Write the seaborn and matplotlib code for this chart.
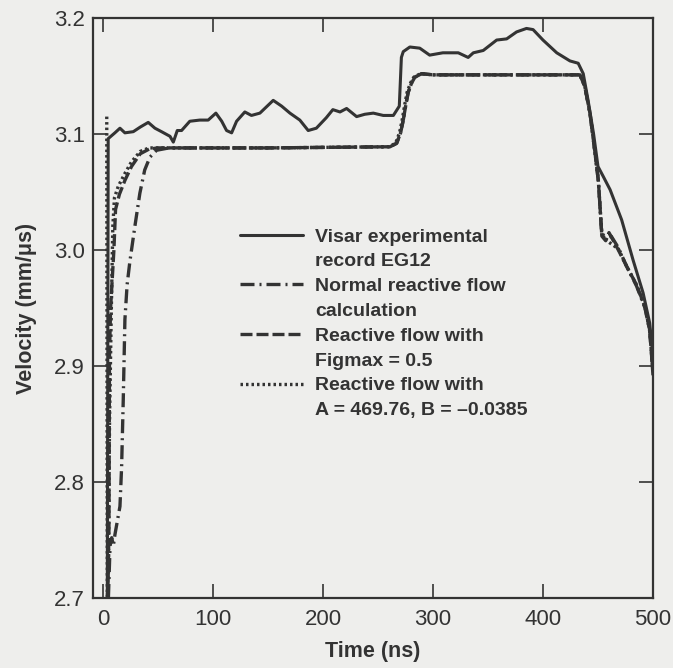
import numpy as np
import pandas as pd
import matplotlib
matplotlib.use("Agg")
import matplotlib.pyplot as plt
import seaborn as sns
from matplotlib.lines import Line2D

# ---- data ----
visar_t = [4, 4.8, 10.9, 15.5, 20, 27.6, 34, 41.2, 47.3, 53.3, 61, 64, 67.6, 71.5, 79, 88,
           95.7, 102.7, 108, 112.4, 117, 121.5, 129, 135, 142.7, 154.8, 162.5, 170, 179,
           186.6, 194, 203, 209, 215.5, 221.5, 230.6, 238, 245.8, 254.8, 264, 269.4, 271.3,
           273, 279, 288, 297, 309, 323, 332, 336.7, 345.7, 357.9, 367, 376, 385, 391, 400,
           412.5, 424.5, 432, 436.6, 441, 446, 450, 455, 461, 471.5, 482, 491, 497, 500]
visar_v = [2.70, 3.096, 3.101, 3.105, 3.101, 3.102, 3.106, 3.110, 3.105, 3.102, 3.098, 3.093,
           3.103, 3.103, 3.111, 3.112, 3.112, 3.118, 3.111, 3.103, 3.101, 3.111, 3.119, 3.116,
           3.118, 3.129, 3.124, 3.118, 3.112, 3.103, 3.105, 3.114, 3.121, 3.119, 3.122, 3.115,
           3.117, 3.118, 3.116, 3.116, 3.124, 3.166, 3.171, 3.175, 3.174, 3.168, 3.170, 3.170,
           3.166, 3.170, 3.172, 3.181, 3.182, 3.188, 3.191, 3.190, 3.181, 3.170, 3.163, 3.161,
           3.152, 3.129, 3.100, 3.072, 3.063, 3.052, 3.026, 2.991, 2.963, 2.937, 2.908]

normal_t = [5, 6.5, 8, 9.5, 11, 15.5, 17, 18.5, 20, 22, 24.5, 29, 33.6, 38, 42.7, 48.8, 60,
            150, 261, 267, 270.6, 273, 275.5, 277.5, 280.6, 283.6, 289.7, 300, 433.6, 438,
            442.7, 447, 450.3, 452, 453.5, 457, 462, 468.5, 476, 485, 492.7, 497, 500]
normal_v = [2.70, 2.745, 2.752, 2.745, 2.755, 2.779, 2.813, 2.871, 2.94, 2.97, 2.99, 3.02,
            3.049, 3.069, 3.080, 3.086, 3.088, 3.088, 3.089, 3.092, 3.101, 3.112, 3.126, 3.136,
            3.144, 3.149, 3.152, 3.151, 3.151, 3.141, 3.118, 3.086, 3.060, 3.035, 3.012, 3.010,
            3.012, 3.002, 2.986, 2.969, 2.950, 2.930, 2.895]

figmax_t = [4.5, 5.5, 6, 7, 10, 11.5, 15, 20, 26, 34, 42, 50, 150, 261, 267, 270.6, 273,
            275.5, 277.5, 280.6, 283.6, 289.7, 300, 433.6, 438, 442.7, 447, 450.3, 452, 453.5,
            457, 460, 468.5, 476, 485, 492.7, 497, 500]
figmax_v = [2.70, 2.76, 2.91, 2.95, 3.00, 3.035, 3.048, 3.060, 3.072, 3.083, 3.087, 3.088,
            3.088, 3.089, 3.092, 3.101, 3.112, 3.126, 3.136, 3.144, 3.149, 3.152, 3.151, 3.151,
            3.141, 3.118, 3.086, 3.060, 3.035, 3.012, 3.008, 3.015, 3.000, 2.986, 2.970, 2.951,
            2.931, 2.892]

ab_t = [3.5, 4, 5, 6, 7.5, 9, 10.5, 14, 20, 26, 34, 42, 150, 260, 266, 269.6, 272, 274.5,
        276.5, 279.6, 282.6, 288.7, 300, 433.6, 438, 442.7, 447, 450.3, 452, 453.5, 458, 468.5,
        476, 485, 492.7, 497, 500]
ab_v = [3.115, 2.70, 2.72, 2.85, 2.94, 3.02, 3.045, 3.055, 3.066, 3.076, 3.085, 3.088, 3.088,
        3.089, 3.092, 3.101, 3.112, 3.126, 3.136, 3.144, 3.149, 3.152, 3.151, 3.151, 3.141,
        3.118, 3.086, 3.060, 3.035, 3.015, 3.008, 3.001, 2.986, 2.970, 2.951, 2.931, 2.894]

x_ticks = [0, 100, 200, 300, 400, 500]
y_ticks = [2.7, 2.8, 2.9, 3.0, 3.1, 3.2]
y_ticklabels = ["2.7", "2.8", "2.9", "3.0", "3.1", "3.2"]

labels = [
    ("Visar experimental", "record EG12"),
    ("Normal reactive flow", "calculation"),
    ("Reactive flow with", "Figmax = 0.5"),
    ("Reactive flow with", "A = 469.76, B = \u20130.0385"),
]

# ---- style ----
sns.set_theme(style="white")
BG = "#eeeeec"
INK = "#333333"
plt.rcParams["font.family"] = ["Liberation Sans", "DejaVu Sans"]
plt.rcParams["text.color"] = INK
plt.rcParams["axes.labelcolor"] = INK
plt.rcParams["xtick.color"] = INK
plt.rcParams["ytick.color"] = INK

fig = plt.figure(figsize=(6.73, 6.68), dpi=100, facecolor=BG)
ax = fig.add_axes([93 / 673, 1 - 598 / 668, 560 / 673, 580 / 668])
ax.set_facecolor(BG)

LW = 2.4
styles = {
    "visar": "-",
    "normal": (0, (4.2, 1.5, 0.6, 1.5)),
    "figmax": (0, (3.6, 1.2)),
    "ab": (0, (0.75, 0.9)),
}

series = [
    ("visar", visar_t, visar_v),
    ("ab", ab_t, ab_v),
    ("figmax", figmax_t, figmax_v),
    ("normal", normal_t, normal_v),
]
for key, t, v in series:
    df = pd.DataFrame({"t": t, "v": v})
    sns.lineplot(data=df, x="t", y="v", ax=ax, sort=False, estimator=None,
                 color=INK, linewidth=LW if key != "visar" else 2.2)
    ln = ax.lines[-1]
    ln.set_linestyle(styles[key])
    ln.set_solid_capstyle("butt")

ax.set_xlim(-9, 500)
ax.set_ylim(2.7, 3.2)
ax.set_xticks(x_ticks)
ax.set_xticklabels([str(x) for x in x_ticks])
ax.set_yticks(y_ticks)
ax.set_yticklabels(y_ticklabels)
ax.tick_params(axis="both", which="both", direction="in", length=10, width=1.2,
               labelsize=16, top=True, right=True, bottom=True, left=True, pad=6)
ax.tick_params(axis="x", pad=8)
for s in ax.spines.values():
    s.set_color(INK)
    s.set_linewidth(1.6)

ax.set_xlabel("Time (ns)", fontsize=15.5, fontweight="bold", labelpad=8)
ax.set_ylabel("Velocity (mm/\u03bcs)", fontsize=15.5, fontweight="bold", labelpad=12)

# legend: each two-line label as two rows, handle on the first row
handles, texts = [], []
for key, (l1, l2) in zip(["visar", "normal", "figmax", "ab"], labels):
    handles.append(Line2D([], [], color=INK, lw=LW if key != "visar" else 2.2,
                          linestyle=styles[key]))
    texts.append(l1)
    handles.append(Line2D([], [], color=INK, lw=0, alpha=0))
    texts.append(l2)
ax.legend(handles, texts, loc="upper left", bbox_to_anchor=(0.2625, 0.638),
          frameon=False, prop={"size": 14, "weight": "bold"}, borderpad=0,
          borderaxespad=0, handlelength=3.24, handletextpad=0.62, labelspacing=0.37)

fig.savefig("out.png", dpi=100, facecolor=BG)
